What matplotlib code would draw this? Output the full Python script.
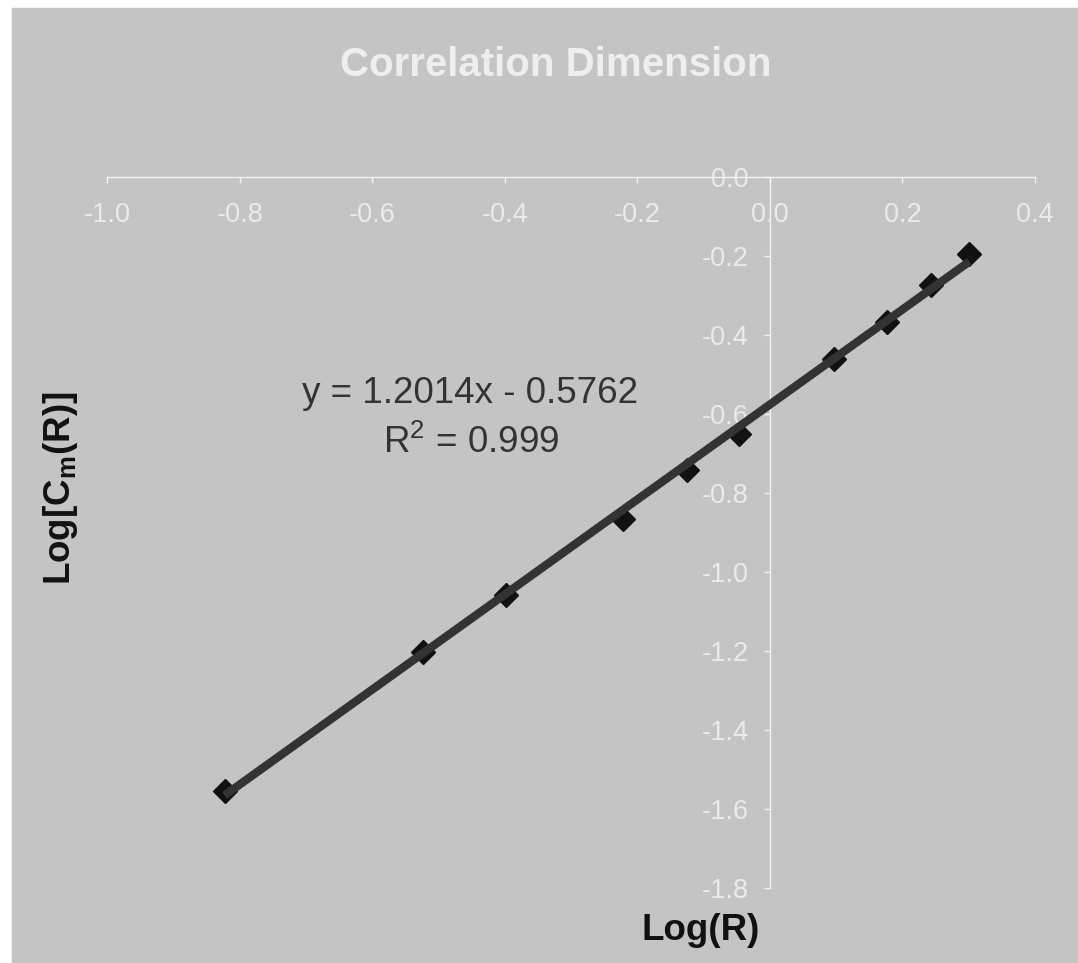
import numpy as np
import matplotlib
matplotlib.use("Agg")
from matplotlib import pyplot as plt
from matplotlib.patches import Rectangle

#-------------------------------DATA--------------------------------------------
log_r = [-0.823, -0.523, -0.398, -0.222, -0.125, -0.046, 0.097, 0.176, 0.243, 0.301]
log_c = [-1.553, -1.203, -1.059, -0.866, -0.742, -0.651, -0.462, -0.368, -0.273, -0.196]
slope = 1.2014
intercept = -0.5762
r_squared = 0.999
x_ticks = [-1.0, -0.8, -0.6, -0.4, -0.2, 0.0, 0.2, 0.4]
y_ticks = [0.0, -0.2, -0.4, -0.6, -0.8, -1.0, -1.2, -1.4, -1.6, -1.8]
#-------------------------------------------------------------------------------

plt.rcParams['font.family'] = ['Liberation Sans', 'DejaVu Sans']
plt.rcParams['mathtext.fontset'] = 'custom'
plt.rcParams['mathtext.bf'] = 'Liberation Sans:bold'
plt.rcParams['mathtext.rm'] = 'Liberation Sans'

W, H = 1078, 963
bg = '#C4C4C4'
light = '#EBEBEB'

fig = plt.figure(figsize=(W / 100, H / 100), dpi=100, facecolor='white')
    # gray chart area with a thin white margin on the left and top
fig.patches.append(Rectangle((12 / W, 0), 1 - 12 / W, 1 - 8 / H,
                             transform=fig.transFigure, color=bg, zorder=-10))

ax = fig.add_axes([107.3 / W, 1 - 888.3 / H, (1035 - 107.3) / W, (888.3 - 176.7) / H])
ax.set_facecolor('none')
ax.set_xlim(-1.0, 0.4)
ax.set_ylim(-1.8, 0.0)

    # axes cross at the origin
ax.spines['left'].set_position(('data', 0))
ax.spines['bottom'].set_position(('data', 0))
ax.spines['right'].set_visible(False)
ax.spines['top'].set_visible(False)
for s in ('left', 'bottom'):
    ax.spines[s].set_color('#F2F2F2')
    ax.spines[s].set_linewidth(1.0)
    ax.spines[s].set_zorder(1)

ax.set_xticks(x_ticks)
ax.set_yticks(y_ticks)
ax.set_xticklabels(['%.1f' % v for v in x_ticks])
ax.set_yticklabels(['%.1f' % v for v in y_ticks])
ax.tick_params(axis='both', direction='out', length=4.5, width=1.0, color='#F2F2F2',
               labelcolor=light, labelsize=19.5)
ax.tick_params(axis='x', pad=14)
ax.tick_params(axis='y', pad=11)

    # data points and trendline (line drawn on top of the markers)
ax.plot(log_r, log_c, linestyle='none', marker='D', markersize=12,
        color='#111111', zorder=3, clip_on=False)
x_fit = np.array([min(log_r), max(log_r)])
ax.plot(x_fit, slope * x_fit + intercept, color='#333333', linewidth=6,
        solid_capstyle='butt', zorder=4, clip_on=False)

fig.text(555.5 / W, 1 - 65 / H, 'Correlation Dimension', ha='center', va='center',
         fontsize=29, fontweight='bold', color='#EEEEEE')
fig.text(470.5 / W, 1 - 403 / H, 'y = %.4fx - %.4f' % (slope, -intercept),
         ha='center', va='baseline', fontsize=26.5, color='#333333')
fig.text(471 / W, 1 - 453 / H, r'R$^{\mathrm{2}}$ = %.3f' % r_squared,
         ha='center', va='baseline', fontsize=26.5, color='#333333')

fig.text(701 / W, 1 - 940 / H, 'Log(R)', ha='center', va='baseline',
         fontsize=26.5, fontweight='bold', color='#111111')
fig.text(60 / W, 1 - 488 / H, r'Log[C$_{\mathbf{m}}$(R)]', ha='center', va='center',
         rotation=90, fontsize=26.5, fontweight='bold', color='#111111')

fig.savefig('out.png', dpi=100, facecolor='white')
